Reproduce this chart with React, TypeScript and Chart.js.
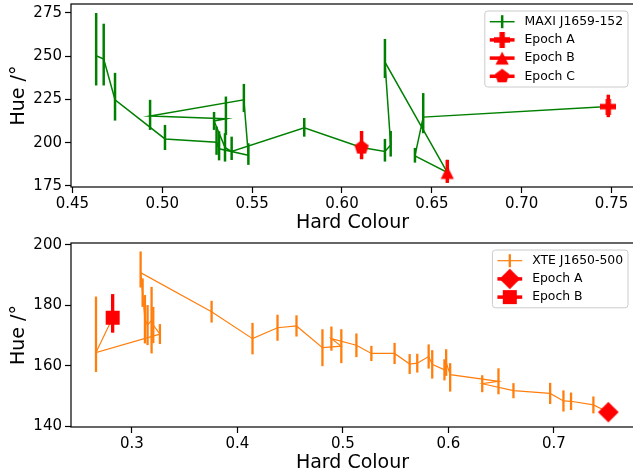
import React, { useEffect, useRef } from "react";
import { Chart, registerables } from "chart.js";

Chart.register(...registerables);

// ---------------- Top panel: MAXI J1659-152 ----------------
const maxiLabel = "MAXI J1659-152";
const maxiHard = [0.4632, 0.4674, 0.4737, 0.5015, 0.5302, 0.5316, 0.5479, 0.5454, 0.4932, 0.5354, 0.5288, 0.5349, 0.5386, 0.579, 0.6109, 0.6239, 0.6271, 0.6239, 0.6586, 0.6406, 0.6452, 0.7482];
const maxiHue = [250.3, 248.4, 224.8, 202.2, 200.3, 196.5, 192.7, 224.8, 215.5, 213.8, 212.6, 197.3, 194.9, 208.6, 197.2, 194.9, 198.7, 246.6, 182.8, 192.4, 214.8, 220.9];
const maxiErrLo = [17.2, 15.3, 12.0, 6.4, 7.3, 6.7, 5.5, 7.1, 8.1, 9.3, 5.2, 8.2, 4.9, 5.1, 6.7, 5.8, 6.7, 9.2, 6.0, 3.9, 9.3, 6.1];
const maxiErrHi = [24.7, 20.4, 15.6, 8.1, 9.0, 10.1, 7.0, 9.2, 9.3, 12.9, 5.2, 8.2, 8.6, 5.7, 9.6, 7.3, 8.1, 13.4, 7.3, 4.6, 13.9, 6.8];

const maxiEpochLabels = ["Epoch A", "Epoch B", "Epoch C"];
const maxiEpochHard = [0.7482, 0.6586, 0.6109];
const maxiEpochHue = [220.9, 182.8, 197.2];
const maxiEpochErrLo = [6.1, 6.0, 6.7];
const maxiEpochErrHi = [6.8, 7.3, 9.6];
const maxiEpochMarkers = ["plus", "triangle", "pentagon"];

const maxiXTicks = [0.45, 0.5, 0.55, 0.6, 0.65, 0.7, 0.75];
const maxiYTicks = [175, 200, 225, 250, 275];
const maxiXRange = [0.4492, 0.7625];
const maxiYRange = [174.4, 280.2];

// ---------------- Bottom panel: XTE J1650-500 ----------------
const xteLabel = "XTE J1650-500";
const xteHard = [0.2817, 0.2659, 0.3265, 0.3202, 0.3186, 0.3148, 0.3123, 0.3101, 0.3082, 0.3755, 0.4143, 0.438, 0.456, 0.4806, 0.4985, 0.4891, 0.5128, 0.527, 0.549, 0.5633, 0.5705, 0.5813, 0.5847, 0.5963, 0.5979, 0.6017, 0.6475, 0.6321, 0.6617, 0.6965, 0.7091, 0.7163, 0.7375, 0.7517];
const xteHue = [175.9, 164.4, 170.5, 173.5, 175.1, 173.5, 175.4, 184.2, 190.8, 177.9, 169.0, 172.6, 173.2, 166.0, 166.5, 169.0, 166.8, 164.1, 164.1, 160.6, 160.9, 163.1, 160.5, 158.7, 161.1, 157.1, 154.9, 154.1, 151.8, 150.9, 148.4, 148.3, 147.1, 144.7];
const xteErrLo = [4.9, 6.4, 3.3, 6.0, 11.0, 6.6, 8.0, 4.7, 4.9, 3.6, 5.2, 4.3, 3.5, 6.1, 5.6, 4.0, 3.9, 2.5, 3.5, 3.3, 3.1, 4.0, 4.7, 3.5, 4.4, 5.6, 4.3, 2.8, 2.5, 3.5, 3.5, 2.9, 2.8, 1.5];
const xteErrHi = [7.8, 18.5, 3.3, 6.0, 11.0, 6.6, 8.0, 4.7, 7.0, 3.6, 5.2, 4.3, 3.5, 6.1, 5.6, 4.0, 3.9, 2.5, 3.5, 3.3, 3.1, 4.0, 4.7, 3.5, 4.4, 3.8, 4.3, 2.8, 2.5, 3.5, 3.5, 2.9, 2.8, 1.5];

const xteEpochLabels = ["Epoch A", "Epoch B"];
const xteEpochHard = [0.7517, 0.2817];
const xteEpochHue = [144.7, 175.9];
const xteEpochErrLo = [1.5, 4.9];
const xteEpochErrHi = [1.5, 7.8];
const xteEpochMarkers = ["diamond", "square"];

const xteXTicks = [0.3, 0.4, 0.5, 0.6, 0.7];
const xteYTicks = [140, 160, 180, 200];
const xteXRange = [0.2422, 0.776];
const xteYRange = [139.8, 200.6];

// ---------------- Styling ----------------
const FONT = '"DejaVu Sans", sans-serif';
const GREEN = "#008000";
const ORANGE = "#ff7f0e";
const RED = "#ff0000";

function makeMarker(kind: string, color: string): HTMLCanvasElement {
  const c = document.createElement("canvas");
  const s = kind === "diamond" ? 22 : 16;
  c.width = s;
  c.height = s;
  const g = c.getContext("2d")!;
  g.fillStyle = color;
  const m = s / 2;
  let pts: number[][] = [];
  if (kind === "plus") {
    const a = 8, t = 8 / 3;
    pts = [[-t, -a], [t, -a], [t, -t], [a, -t], [a, t], [t, t], [t, a], [-t, a], [-t, t], [-a, t], [-a, -t], [-t, -t]];
  } else if (kind === "triangle") {
    const h = 6.6;
    pts = [[0, -h], [h, h], [-h, h]];
  } else if (kind === "pentagon") {
    const R = 7.5;
    for (let k = 0; k < 5; k++) {
      const ang = -Math.PI / 2 + (k * 2 * Math.PI) / 5;
      pts.push([R * Math.cos(ang), R * Math.sin(ang)]);
    }
  } else if (kind === "square") {
    const h = 7;
    pts = [[-h, -h], [h, -h], [h, h], [-h, h]];
  } else if (kind === "diamond") {
    const h = 10.3;
    pts = [[0, -h], [h, 0], [0, h], [-h, 0]];
  }
  g.beginPath();
  pts.forEach((p, i) => (i === 0 ? g.moveTo(m + p[0], m + p[1]) : g.lineTo(m + p[0], m + p[1])));
  g.closePath();
  g.fill();
  return c;
}

const errorBarPlugin = {
  id: "errBars",
  beforeDatasetDraw(chart: any, args: any) {
    const ds = chart.data.datasets[args.index];
    if (!ds.errLo) return;
    const { ctx, chartArea: a } = chart;
    const xs = chart.scales.x, ys = chart.scales.y;
    ctx.save();
    ctx.beginPath();
    ctx.rect(a.left, a.top, a.right - a.left, a.bottom - a.top);
    ctx.clip();
    ctx.strokeStyle = ds.errColor;
    ctx.lineWidth = ds.errWidth;
    ctx.lineCap = "butt";
    ds.data.forEach((p: any, i: number) => {
      const px = xs.getPixelForValue(p.x);
      const y0 = ys.getPixelForValue(p.y - ds.errLo[i]);
      const y1 = ys.getPixelForValue(p.y + ds.errHi[i]);
      ctx.beginPath();
      ctx.moveTo(px, y0);
      ctx.lineTo(px, y1);
      ctx.stroke();
    });
    ctx.restore();
  },
};

const framePlugin = {
  id: "frame",
  afterDatasetsDraw(chart: any) {
    const { ctx, chartArea: a } = chart;
    ctx.save();
    ctx.strokeStyle = "#000";
    ctx.lineWidth = 1.2;
    ctx.strokeRect(a.left, a.top, a.right - a.left, a.bottom - a.top);
    ctx.restore();
  },
};

const legendPlugin = {
  id: "mplLegend",
  afterDraw(chart: any) {
    const { ctx, chartArea: a } = chart;
    const items = chart.data.datasets.map((ds: any) => ({
      label: ds.label,
      kind: ds.showLine ? "series" : "marker",
      color: ds.showLine ? ds.borderColor : RED,
      lineWidth: ds.borderWidth,
      errWidth: ds.errWidth,
      marker: ds.pointStyle,
    }));
    const fs = 12.4;
    ctx.save();
    ctx.font = `${fs}px ${FONT}`;
    const textW = Math.max(...items.map((it: any) => ctx.measureText(it.label).width));
    const pad = 0.4 * fs, hl = 2 * fs, htp = 0.8 * fs;
    const w = pad + hl + htp + textW + pad;
    const rowH = 18.2, first = 10.7;
    const h = first * 2 + rowH * (items.length - 1);
    const right = a.right - 6;
    const top = a.top + 7;
    const left = right - w;
    const r = 3;
    ctx.beginPath();
    ctx.moveTo(left + r, top);
    ctx.lineTo(left + w - r, top);
    ctx.arcTo(left + w, top, left + w, top + r, r);
    ctx.lineTo(left + w, top + h - r);
    ctx.arcTo(left + w, top + h, left + w - r, top + h, r);
    ctx.lineTo(left + r, top + h);
    ctx.arcTo(left, top + h, left, top + h - r, r);
    ctx.lineTo(left, top + r);
    ctx.arcTo(left, top, left + r, top, r);
    ctx.closePath();
    ctx.fillStyle = "rgba(255,255,255,0.8)";
    ctx.fill();
    ctx.strokeStyle = "#cccccc";
    ctx.lineWidth = 1;
    ctx.stroke();
    items.forEach((it: any, i: number) => {
      const cy = top + first + i * rowH;
      const hx0 = left + pad, hx1 = hx0 + hl, hcx = (hx0 + hx1) / 2;
      ctx.strokeStyle = it.color;
      if (it.kind === "series") {
        ctx.lineWidth = it.lineWidth;
        ctx.beginPath();
        ctx.moveTo(hx0, cy);
        ctx.lineTo(hx1, cy);
        ctx.stroke();
        ctx.lineWidth = it.errWidth;
        ctx.beginPath();
        ctx.moveTo(hcx, cy - 6.5);
        ctx.lineTo(hcx, cy + 6.5);
        ctx.stroke();
      } else {
        ctx.lineWidth = 3.5;
        ctx.beginPath();
        ctx.moveTo(hx0, cy);
        ctx.lineTo(hx1, cy);
        ctx.stroke();
        const mk = it.marker as HTMLCanvasElement;
        ctx.drawImage(mk, hcx - mk.width / 2, cy - mk.height / 2);
      }
      ctx.fillStyle = "#000";
      ctx.textAlign = "left";
      ctx.textBaseline = "middle";
      ctx.fillText(it.label, hx1 + htp, cy);
    });
    ctx.restore();
  },
};

function zeroPad(s: any) {
  s.paddingTop = 0;
  s.paddingBottom = 0;
  s.paddingLeft = 0;
  s.paddingRight = 0;
}

function buildPanel(canvas: HTMLCanvasElement, p: any) {
  const datasets: any[] = [];
  datasets.push({
    label: p.seriesLabel,
    data: p.hard.map((h: number, i: number) => ({ x: h, y: p.hue[i] })),
    errLo: p.errLo,
    errHi: p.errHi,
    errColor: p.color,
    errWidth: p.errWidth,
    showLine: true,
    borderColor: p.color,
    backgroundColor: p.color,
    borderWidth: p.lineWidth,
    pointRadius: 0,
    pointHoverRadius: 0,
    tension: 0,
    order: 2,
  });
  p.epochLabels.forEach((lab: string, i: number) => {
    datasets.push({
      label: lab,
      data: [{ x: p.epochHard[i], y: p.epochHue[i] }],
      errLo: [p.epochErrLo[i]],
      errHi: [p.epochErrHi[i]],
      errColor: RED,
      errWidth: p.epochErrWidth,
      showLine: false,
      pointStyle: p.epochMarkers[i],
      pointRadius: 8,
      pointHoverRadius: 8,
      backgroundColor: RED,
      borderColor: RED,
      order: 1,
    });
  });
  const tickFont = { family: FONT, size: 15 };
  const titleFont = { family: FONT, size: 19 };
  return new Chart(canvas, {
    type: "scatter",
    data: { datasets },
    options: {
      animation: false,
      responsive: false,
      maintainAspectRatio: false,
      devicePixelRatio: 1,
      events: [],
      layout: { autoPadding: false, padding: { left: 0, right: 11, top: p.padTop, bottom: 0 } },
      plugins: { legend: { display: false }, tooltip: { enabled: false } },
      scales: {
        x: {
          type: "linear",
          min: p.xRange[0],
          max: p.xRange[1],
          afterBuildTicks: (s: any) => {
            s.ticks = p.xTicks.map((v: number) => ({ value: v }));
          },
          afterFit: (s: any) => {
            s.height = 48;
            zeroPad(s);
          },
          ticks: {
            callback: (v: any) => Number(v).toFixed(p.xDec),
            font: tickFont,
            color: "#000",
            padding: 2,
            maxRotation: 0,
            autoSkip: false,
          },
          grid: { display: true, drawOnChartArea: false, drawTicks: true, tickLength: 6, tickColor: "#000", tickWidth: 1.2 },
          border: { display: false },
          title: { display: true, text: "Hard Colour", font: titleFont, color: "#000", padding: { top: 0, bottom: 0.5 } },
        },
        y: {
          type: "linear",
          min: p.yRange[0],
          max: p.yRange[1],
          afterBuildTicks: (s: any) => {
            s.ticks = p.yTicks.map((v: number) => ({ value: v }));
          },
          afterFit: (s: any) => {
            s.width = 71;
            zeroPad(s);
          },
          ticks: {
            callback: (v: any) => String(Math.round(Number(v))),
            font: tickFont,
            color: "#000",
            padding: 3,
            autoSkip: false,
          },
          grid: { display: true, drawOnChartArea: false, drawTicks: true, tickLength: 6, tickColor: "#000", tickWidth: 1.2 },
          border: { display: false },
          title: { display: true, text: "Hue /°", font: titleFont, color: "#000", padding: { top: 7.5, bottom: 0 } },
        },
      },
    } as any,
    plugins: [errorBarPlugin, framePlugin, legendPlugin],
  });
}

export default function App() {
  const topRef = useRef<HTMLCanvasElement>(null);
  const botRef = useRef<HTMLCanvasElement>(null);

  useEffect(() => {
    const charts: Chart[] = [];
    charts.push(
      buildPanel(topRef.current!, {
        seriesLabel: maxiLabel,
        hard: maxiHard,
        hue: maxiHue,
        errLo: maxiErrLo,
        errHi: maxiErrHi,
        color: GREEN,
        lineWidth: 1.5,
        errWidth: 2.5,
        epochLabels: maxiEpochLabels,
        epochHard: maxiEpochHard,
        epochHue: maxiEpochHue,
        epochErrLo: maxiEpochErrLo,
        epochErrHi: maxiEpochErrHi,
        epochMarkers: maxiEpochMarkers.map((k) => makeMarker(k, RED)),
        epochErrWidth: 3.5,
        xTicks: maxiXTicks,
        yTicks: maxiYTicks,
        xRange: maxiXRange,
        yRange: maxiYRange,
        xDec: 2,
        padTop: 4,
      })
    );
    charts.push(
      buildPanel(botRef.current!, {
        seriesLabel: xteLabel,
        hard: xteHard,
        hue: xteHue,
        errLo: xteErrLo,
        errHi: xteErrHi,
        color: ORANGE,
        lineWidth: 1.2,
        errWidth: 2.3,
        epochLabels: xteEpochLabels,
        epochHard: xteEpochHard,
        epochHue: xteEpochHue,
        epochErrLo: xteEpochErrLo,
        epochErrHi: xteEpochErrHi,
        epochMarkers: xteEpochMarkers.map((k) => makeMarker(k, RED)),
        epochErrWidth: 3.3,
        xTicks: xteXTicks,
        yTicks: xteYTicks,
        xRange: xteXRange,
        yRange: xteYRange,
        xDec: 1,
        padTop: 8,
      })
    );
    return () => charts.forEach((c) => c.destroy());
  }, []);

  return (
    <div style={{ position: "fixed", left: 0, top: 0, width: 633, height: 475, overflow: "hidden", background: "#fff" }}>
      <canvas ref={topRef} width={645} height={235} style={{ position: "absolute", left: 0, top: 0, width: 645, height: 235 }} />
      <canvas ref={botRef} width={645} height={240} style={{ position: "absolute", left: 0, top: 235, width: 645, height: 240 }} />
    </div>
  );
}
